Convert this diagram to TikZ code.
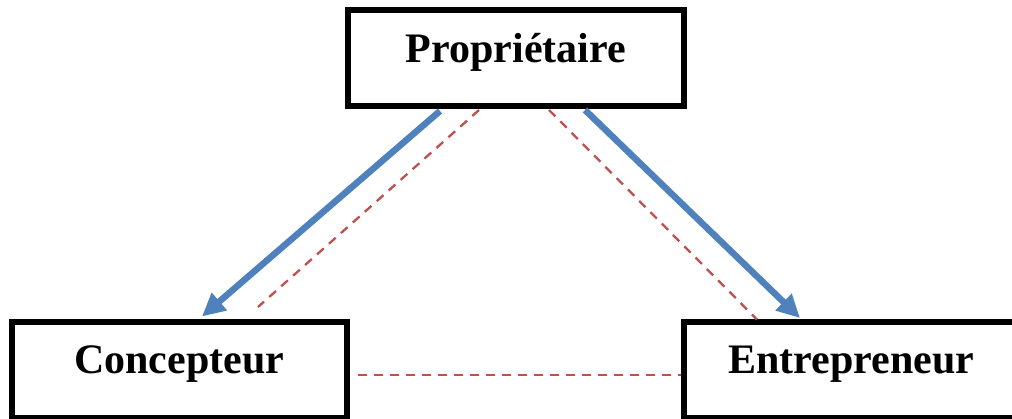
\documentclass[tikz,border=0pt]{standalone}
\usepackage{fontspec}
\setmainfont{Liberation Serif}
\usetikzlibrary{calc,arrows.meta}
\definecolor{arrowblue}{RGB}{79,129,189}
\definecolor{dashred}{RGB}{192,80,77}
\tikzset{
  rolebox/.style={draw=black, line width=6pt, fill=none, minimum width=335.5pt,
    minimum height=96pt, inner sep=0pt, font=\fontsize{42}{50}\selectfont\bfseries},
  bluearrow/.style={draw=arrowblue, line width=6.5pt, -{Triangle[length=23pt,width=22pt]}},
  reddash/.style={draw=dashred, line width=2.3pt, dash pattern=on 9pt off 7pt}
}
\begin{document}
\begin{tikzpicture}[x=1pt,y=-1pt]
\useasboundingbox (0,0) rectangle (1012,419);
\path (516,58) node[rolebox, minimum width=336pt, text height=30pt, text depth=20pt] (prop) {Propri\'etaire};
\path (179.25,370.5) node[rolebox, text height=28pt, text depth=22pt] (conc) {Concepteur};
\path (851.25,370.5) node[rolebox, text height=28pt, text depth=22pt] (entr) {Entrepreneur};
% connectors
\draw[bluearrow] ($(prop.south west)+(95,2)$) -- ($(conc.north west)+(193.5,-3)$);
\draw[bluearrow] ($(prop.south west)+(240,1)$) -- ($(entr.north west)+(119.5,-1.5)$);
\draw[reddash] ($(prop.south west)+(134,1)$) -- ($(conc.north west)+(249.5,-12.5)$);
\draw[reddash] ($(prop.south west)+(204,1)$) -- ($(entr.north west)+(76.5,0)$);
\draw[reddash] ($(conc.east)+(8,4.5)$) -- ($(entr.west)+(0,4.5)$);
\end{tikzpicture}
\end{document}
